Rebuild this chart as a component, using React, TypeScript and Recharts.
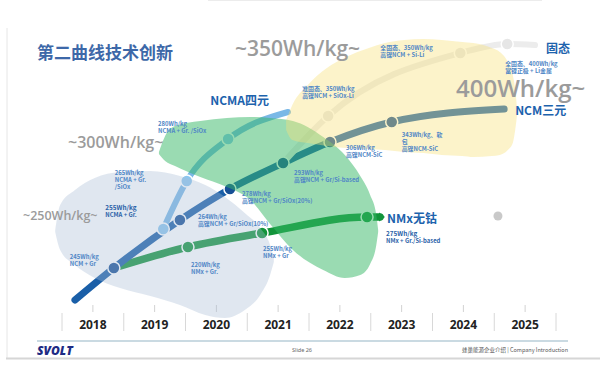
import React from "react";
import { ComposedChart, Line, Area, Scatter, XAxis, YAxis } from "recharts";

// x = year, level = schematic height of each milestone above the year row
const YEARS = [2018, 2019, 2020, 2021, 2022, 2023, 2024, 2025];
const SEPARATORS = [2017.5, 2018.5, 2019.5, 2020.5, 2021.5, 2022.5, 2023.5, 2024.5, 2025.5];
const AXIS_TICKS = [...SEPARATORS, ...YEARS].sort((a, b) => a - b);

const NCM_POINTS = [
  { year: 2017.71, level: 13 },
  { year: 2018.34, level: 45, id: "ncm245", lines: ["245Wh/kg", "NCM + Gr"] },
  { year: 2019.41, level: 93, id: "ncm264", lines: ["264Wh/kg", "高镍NCM + Gr/SiOx(10%)"] },
  { year: 2020.22, level: 124, id: "ncm278", lines: ["278Wh/kg", "高镍NCM + Gr/SiOx(20%)"] },
  { year: 2021.08, level: 150, id: "ncm293", lines: ["293Wh/kg", "高镍NCM + Gr/Si-based"] },
  { year: 2021.84, level: 171, id: "ncm306", lines: ["306Wh/kg", "高镍NCM-SiC"] },
  { year: 2022.84, level: 191, id: "ncm343", lines: ["343Wh/kg、软", "包", "高镍NCM-SiC"] },
  { year: 2024.66, level: 204, id: "ncmEnd", name: "NCM三元" },
];

const NCMA_POINTS = [
  { year: 2019.14, level: 84, id: "ncma255", lines: ["255Wh/kg", "NCMA + Gr."] },
  { year: 2019.52, level: 132, id: "ncma265", lines: ["265Wh/kg", "NCMA + Gr.", "/SiOx"] },
  { year: 2020.19, level: 174, id: "ncma280", lines: ["280Wh/kg", "NCMA + Gr. /SiOx"] },
  { year: 2021.16, level: 201, id: "ncmaEnd", name: "NCMA四元" },
];

const NMX_POINTS = [
  { year: 2018.34, level: 45 },
  { year: 2019.54, level: 66, id: "nmx220", lines: ["220Wh/kg", "NMx + Gr."] },
  { year: 2020.74, level: 80, id: "nmx255", lines: ["255Wh/kg", "NMx + Gr"] },
  { year: 2022.44, level: 96, id: "nmx275", lines: ["275Wh/kg", "NMx + Gr./Si-based"] },
  { year: 2022.65, level: 96, id: "nmxEnd", name: "NMx无钴", arrow: true },
];

const SOLID_POINTS = [
  { year: 2021.08, level: 150 },
  { year: 2021.81, level: 197, id: "ss350a", lines: ["准固态、350Wh/kg", "高镍NCM + SiOx-Li"] },
  { year: 2023.95, level: 260, id: "ss350b", lines: ["全固态、350Wh/kg", "高镍NCM + Si-Li"] },
  { year: 2024.71, level: 269, id: "ss400", lines: ["全固态、400Wh/kg", "富锂正极 + Li金属"] },
  { year: 2025.16, level: 268, id: "ssEnd", name: "固态" },
];

const LONE_POINT = [{ year: 2024.56, level: 97 }];

// background zones, lower / upper edge per year
const GRAY_ZONE = [
  { year: 2017.39, lo: 81, hi: 83 },
  { year: 2017.47, lo: 63, hi: 108 },
  { year: 2017.71, lo: 48, hi: 123 },
  { year: 2018.03, lo: 35, hi: 135 },
  { year: 2018.44, lo: 25, hi: 141 },
  { year: 2018.93, lo: 17, hi: 142 },
  { year: 2019.41, lo: 8, hi: 137 },
  { year: 2019.82, lo: -2, hi: 128 },
  { year: 2020.14, lo: -5, hi: 116 },
  { year: 2020.46, lo: 3, hi: 100 },
  { year: 2020.71, lo: 18, hi: 85 },
  { year: 2020.87, lo: 38, hi: 68 },
  { year: 2020.93, lo: 51, hi: 55 },
];

const GREEN_ZONE = [
  { year: 2019.07, lo: 159, hi: 161 },
  { year: 2019.17, lo: 152, hi: 177 },
  { year: 2019.33, lo: 147, hi: 187 },
  { year: 2019.74, lo: 136, hi: 192 },
  { year: 2020.17, lo: 126, hi: 195 },
  { year: 2020.55, lo: 113, hi: 196 },
  { year: 2020.87, lo: 89, hi: 195 },
  { year: 2021.24, lo: 63, hi: 192 },
  { year: 2021.73, lo: 43, hi: 176 },
  { year: 2022.08, lo: 35, hi: 158 },
  { year: 2022.33, lo: 38, hi: 137 },
  { year: 2022.49, lo: 49, hi: 118 },
  { year: 2022.59, lo: 68, hi: 98 },
  { year: 2022.62, lo: 81, hi: 83 },
];

const YELLOW_ZONE = [
  { year: 2021.13, lo: 183, hi: 193 },
  { year: 2021.23, lo: 173, hi: 208 },
  { year: 2021.48, lo: 170, hi: 228 },
  { year: 2021.79, lo: 167, hi: 245 },
  { year: 2022.1, lo: 165, hi: 256 },
  { year: 2022.47, lo: 164, hi: 265 },
  { year: 2022.73, lo: 163, hi: 270 },
  { year: 2023.04, lo: 161, hi: 273 },
  { year: 2023.35, lo: 160, hi: 274 },
  { year: 2023.65, lo: 158, hi: 273 },
  { year: 2023.98, lo: 157, hi: 271 },
  { year: 2024.16, lo: 156, hi: 270 },
  { year: 2024.46, lo: 157, hi: 265 },
  { year: 2024.59, lo: 158, hi: 261 },
  { year: 2024.72, lo: 163, hi: 251 },
  { year: 2024.8, lo: 170, hi: 238 },
  { year: 2024.85, lo: 188, hi: 218 },
  { year: 2024.87, lo: 198, hi: 203 },
];

// label placement relative to its milestone dot
const LABEL_OFFSET: Record<string, [number, number, string?]> = {
  ncm245: [-44, -12],
  ncm264: [18, -4],
  ncm278: [12, 4],
  ncm293: [11, 9],
  ncm306: [16, 5],
  ncm343: [10, 12],
  ncmEnd: [11, 0],
  ncma255: [-58, -22],
  ncma265: [-72, -9],
  ncma280: [-70, -16],
  ncmaEnd: [-19, -13, "end"],
  nmx220: [3, 17],
  nmx255: [1, 15],
  nmx275: [19, 16],
  nmxEnd: [7, 0],
  ss350a: [-26, -28],
  ss350b: [-80, -6],
  ss400: [-2, 19],
  ssEnd: [11, 2],
};
const STRONG = new Set(["ncma255", "nmx275"]);

const FONT = "'Noto Sans', 'Noto Sans CJK SC', sans-serif";
const CJK = "'Noto Sans CJK SC', 'Noto Sans', sans-serif";
const W = 600;
const H = 369;
const MARGIN = { top: 0, right: 13.125, bottom: 0, left: 31.125 };

const YearTick = (props: any) => {
  const { x, y, payload } = props;
  const v = payload.value;
  if (Number.isInteger(v)) {
    return (
      <g>
        <line x1={x} x2={x} y1={y - 28} y2={y - 21} stroke="#d2d2d2" />
        <text x={x} y={y - 4.5} textAnchor="middle" fontSize={12} fontWeight={700} fill="#222" fontFamily={FONT}>
          {v}
        </text>
      </g>
    );
  }
  return <line x1={x} x2={x} y1={y - 20} y2={y - 2} stroke="#d8d8d8" />;
};

const EmptyTick = () => <g />;

// same scales in every stacked layer
const axes = (withTicks: boolean) => [
  <XAxis key="x" dataKey="year" type="number" domain={[2017, 2026]} ticks={AXIS_TICKS} interval={0}
    axisLine={false} tickLine={false} tickSize={0} tickMargin={0} height={36}
    tick={withTicks ? <YearTick /> : <EmptyTick />} />,
  <YAxis key="y" dataKey="level" type="number" domain={[-20, 313]} hide />,
];

const marker = (fill: string) => (props: any) => {
  const { cx, cy, payload, index } = props;
  if (payload.arrow) {
    return <path key={index} d={`M${cx - 1},${cy - 4.5} L${cx + 5},${cy} L${cx - 1},${cy + 4.5} Z`} fill={fill} />;
  }
  if (!payload.id || payload.name) return <g key={index} />;
  return <circle key={index} cx={cx} cy={cy} r={6} fill={fill} stroke="#fff" strokeWidth={1.5} />;
};

const LabelShape = (props: any) => {
  const { cx, cy, payload } = props;
  const off = LABEL_OFFSET[payload.id];
  if (!off) return <g />;
  const [dx, dy, anchor] = off;
  if (payload.name) {
    return (
      <text x={cx + dx} y={cy + dy} dominantBaseline="central" textAnchor={anchor || "start"} fontSize={12}
        fontWeight={700} fill="#1d63ad" fontFamily={CJK}>
        {payload.name}
      </text>
    );
  }
  const strong = STRONG.has(payload.id);
  return (
    <g>
      {payload.lines.map((t: string, i: number) => (
        <text key={i} x={cx + dx} y={cy + dy + i * 7.2} dominantBaseline="central"
          fontSize={i === 0 && strong ? 6.4 : 5.9} fontWeight={strong ? 700 : 600}
          fill={strong ? "#2a62a8" : "#4f86c6"} fontFamily={CJK}>
          {t}
        </text>
      ))}
    </g>
  );
};

const LABELLED = [...NCM_POINTS, ...NCMA_POINTS, ...NMX_POINTS, ...SOLID_POINTS].filter((p) => p.id);

const layer: React.CSSProperties = { position: "absolute", left: 0, top: 0, width: W, height: H };

const zone = (data: any[], fill: string, opacity: number) => (
  <Area data={data} dataKey={(d: any) => [d.lo, d.hi]} type="monotone" stroke="none" fill={fill}
    fillOpacity={opacity} dot={false} activeDot={false} isAnimationActive={false} />
);

export default function App() {
  return (
    <div style={{ position: "absolute", left: 0, top: 0, width: W, height: H, background: "#fff" }}>
      {/* roadmap lines */}
      <div style={layer}>
        <ComposedChart width={W} height={H} margin={MARGIN}>
          {axes(true)}
          <Line data={NMX_POINTS} dataKey="level" type="monotone" stroke="#12943a" strokeWidth={7.5}
            strokeLinecap="round" dot={marker("#12943a")} activeDot={false} isAnimationActive={false} />
          <Line data={NCM_POINTS} dataKey="level" type="monotone" stroke="#1a5fa8" strokeWidth={7}
            strokeLinecap="round" dot={marker("#164f95")} activeDot={false} isAnimationActive={false} />
          <Line data={NCMA_POINTS} dataKey="level" type="monotone" stroke="#7ab8e6" strokeWidth={6}
            strokeLinecap="round" dot={marker("#8cc6ee")} activeDot={false} isAnimationActive={false} />
          <Line data={SOLID_POINTS} dataKey="level" type="monotone" stroke="#ececec" strokeWidth={6}
            strokeLinecap="round" dot={marker("#e6e6e6")} activeDot={false} isAnimationActive={false} />
          <Scatter data={LONE_POINT} dataKey="level" fill="#c9c9c9" isAnimationActive={false}
            shape={(p: any) => <circle cx={p.cx} cy={p.cy} r={4.5} fill="#c9c9c9" />} />
        </ComposedChart>
      </div>

      {/* translucent technology zones over the lines */}
      <div style={{ ...layer, pointerEvents: "none" }}>
        <ComposedChart width={W} height={H} margin={MARGIN}>
          {axes(false)}
          <Line data={NCM_POINTS} dataKey="level" stroke="none" dot={false} activeDot={false} isAnimationActive={false} />
          {zone(GRAY_ZONE, "#a9bcd6", 0.36)}
          {zone(GREEN_ZONE, "#35b765", 0.5)}
          {zone(YELLOW_ZONE, "#f8e27a", 0.4)}
        </ComposedChart>
      </div>

      {/* milestone texts */}
      <div style={{ ...layer, pointerEvents: "none" }}>
        <ComposedChart width={W} height={H} margin={MARGIN}>
          {axes(false)}
          <Scatter data={LABELLED} dataKey="level" isAnimationActive={false} shape={<LabelShape />} />
        </ComposedChart>
      </div>

      <svg width={W} height={H} style={{ ...layer, pointerEvents: "none" }}>
        <line x1={208} x2={542} y1={0.5} y2={0.5} stroke="#ececec" />
        <line x1={7} x2={7} y1={28} y2={358} stroke="#e6e6e6" />
        <line x1={6} x2={600} y1={358.5} y2={358.5} stroke="#d6d6d6" strokeWidth={2} />
        <text x={37} y={59} fontSize={17} fontWeight={700} fill="#3d68a8" fontFamily={CJK}>第二曲线技术创新</text>
        <text x={235} y={56} fontSize={21} fontWeight={600} fill="#9b9b9b" fontFamily="'Open Sans', sans-serif">~350Wh/kg~</text>
        <text x={456} y={97} fontSize={24} fontWeight={600} fill="#9b9b9b" fontFamily="'Open Sans', sans-serif">400Wh/kg~</text>
        <text x={68} y={148} fontSize={16} fontWeight={600} fill="#9b9b9b" fontFamily="'Open Sans', sans-serif">~300Wh/kg~</text>
        <text x={23} y={220} fontSize={12.5} fontWeight={600} fill="#9b9b9b" fontFamily="'Open Sans', sans-serif">~250Wh/kg~</text>
        <line x1={37} x2={568} y1={341} y2={341} stroke="#b9ced8" strokeWidth={1.5} />
        <text x={37} y={355} fontSize={12} fontWeight={800} fontStyle="italic" fill="#1d2b84" fontFamily="'Open Sans', sans-serif">SVOLT</text>
        <text x={302} y={352} fontSize={5.5} fill="#666" textAnchor="middle" fontFamily={FONT}>Slide 26</text>
        <text x={568} y={352} fontSize={5.5} fill="#555" textAnchor="end" fontFamily={CJK}>蜂巢能源企业介绍 | Company Introduction</text>
      </svg>
    </div>
  );
}
